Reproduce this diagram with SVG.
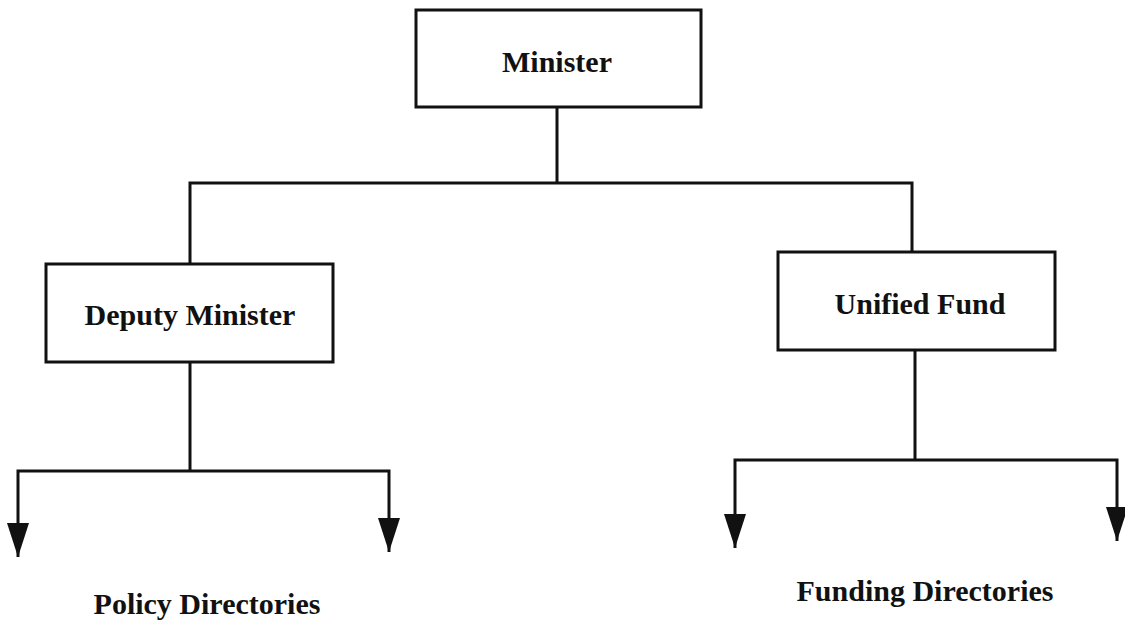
<svg xmlns="http://www.w3.org/2000/svg" width="1125" height="623" viewBox="0 0 1125 623">
<defs>
<style>
.box{fill:#fff;stroke:#111;stroke-width:3}
.ln{fill:none;stroke:#111;stroke-width:3;stroke-linejoin:miter}
.lbl{font-family:"Liberation Serif","Times New Roman",serif;font-weight:bold;font-size:30px;fill:#111;text-anchor:middle}
</style>
<marker id="ah" markerUnits="userSpaceOnUse" markerWidth="36" markerHeight="24" viewBox="0 0 36 24" refX="34" refY="12" orient="auto">
<path d="M0,1 L34,12 L0,23 Z" fill="#111"/>
</marker>
</defs>
<rect width="1125" height="623" fill="#fff"/>
<g id="connectors">
<path class="ln" d="M557,108 V183"/>
<path class="ln" d="M190,265 V183 H912 V252"/>
<path class="ln" d="M190,362 V471"/>
<path class="ln" d="M190,471 H18 V557" marker-end="url(#ah)"/>
<path class="ln" d="M190,471 H389 V552" marker-end="url(#ah)"/>
<path class="ln" d="M915,350 V460"/>
<path class="ln" d="M915,460 H735 V548" marker-end="url(#ah)"/>
<path class="ln" d="M915,460 H1117 V541" marker-end="url(#ah)"/>
</g>
<g id="minister">
<rect class="box" x="416" y="10" width="285" height="97"/>
<text class="lbl" x="557" y="72">Minister</text>
</g>
<g id="deputy-minister">
<rect class="box" x="46" y="264" width="287" height="98"/>
<text class="lbl" x="190" y="325">Deputy Minister</text>
</g>
<g id="unified-fund">
<rect class="box" x="778" y="252" width="277" height="98"/>
<text class="lbl" x="920" y="314">Unified Fund</text>
</g>
<g id="policy-directories">
<text class="lbl" x="207" y="614">Policy Directories</text>
</g>
<g id="funding-directories">
<text class="lbl" x="925" y="601">Funding Directories</text>
</g>
</svg>
